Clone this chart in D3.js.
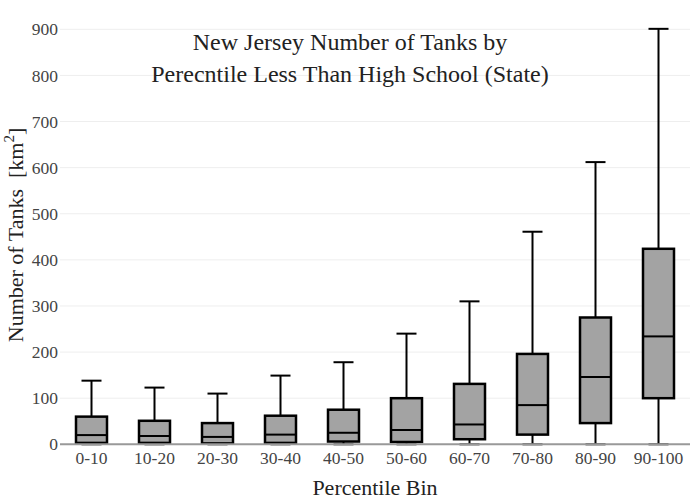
<!DOCTYPE html>
<html>
<head>
  <style>
    body { margin: 0; background: #fff; }
    svg text { font-family: "Times New Roman", Times, "Liberation Serif", Tinos, "DejaVu Serif", serif !important; }
  </style>
</head>
<body>
  <div id="chart"></div>
  <script src="https://d3js.org/d3.v7.min.js"></script>
  <script>
    // Box stats
    const bins = ["0-10", "10-20", "20-30", "30-40", "40-50", "50-60", "60-70", "70-80", "80-90", "90-100"];
    const lowers = [0, 0, 0, 0, 0, 0, 0, 0, 0, 0];
    const q1s = [3, 3, 2, 3, 6, 5, 11, 21, 46, 100];
    const medians = [20, 18, 16, 21, 25, 31, 43, 85, 146, 234];
    const q3s = [60, 51, 46, 62, 75, 100, 131, 196, 275, 424];
    const uppers = [138, 123, 110, 149, 178, 240, 310, 461, 612, 901];
    const yTicks = [0, 100, 200, 300, 400, 500, 600, 700, 800, 900];

    const width = 700, height = 500;

    const svg = d3.select("#chart")
      .append("svg")
      .attr("width", width)
      .attr("height", height);

    const x = d3.scaleBand()
      .domain(bins)
      .range([60, 690]);

    const y = d3.scaleLinear()
      .domain([0, 900])
      .range([444.3, 29.3]);

    // gridlines
    svg.append("g")
      .selectAll("line")
      .data(yTicks.slice(1))
      .enter()
      .append("line")
      .attr("x1", 60)
      .attr("x2", 690)
      .attr("y1", d => y(d))
      .attr("y2", d => y(d))
      .attr("stroke", "#eee")
      .attr("stroke-width", 1);

    // y axis labels
    const yAxis = svg.append("g")
      .attr("transform", "translate(60,0)")
      .call(d3.axisLeft(y).tickValues(yTicks).tickSize(0).tickPadding(2));
    yAxis.select(".domain").remove();
    yAxis.selectAll("text")
      .attr("font-size", 17.5)
      .attr("fill", "#444");

    // x axis
    const xAxis = svg.append("g")
      .attr("transform", "translate(0,444.3)")
      .call(d3.axisBottom(x).tickSize(0).tickPadding(7));
    xAxis.select(".domain").remove();
    xAxis.selectAll("text")
      .attr("font-size", 17.5)
      .attr("fill", "#444");

    const data = bins.map((b, i) => ({
      bin: b, lo: lowers[i], q1: q1s[i], med: medians[i], q3: q3s[i], hi: uppers[i]
    }));

    const boxW = 31, capW = 20;
    const g = svg.append("g")
      .selectAll("g")
      .data(data)
      .enter()
      .append("g")
      .attr("transform", d => `translate(${x(d.bin) + x.bandwidth() / 2},0)`);

    // whiskers
    g.append("line")
      .attr("y1", d => y(d.q3)).attr("y2", d => y(d.hi))
      .attr("stroke", "#000").attr("stroke-width", 2);
    g.append("line")
      .attr("y1", d => y(d.q1)).attr("y2", d => y(d.lo))
      .attr("stroke", "#000").attr("stroke-width", 2);
    g.append("line")
      .attr("x1", -capW / 2).attr("x2", capW / 2)
      .attr("y1", d => y(d.hi)).attr("y2", d => y(d.hi))
      .attr("stroke", "#000").attr("stroke-width", 2);
    g.append("line")
      .attr("x1", -capW / 2).attr("x2", capW / 2)
      .attr("y1", d => y(d.lo)).attr("y2", d => y(d.lo))
      .attr("stroke", "#000").attr("stroke-width", 2);

    // boxes
    g.append("rect")
      .attr("x", -boxW / 2)
      .attr("width", boxW)
      .attr("y", d => y(d.q3))
      .attr("height", d => y(d.q1) - y(d.q3))
      .attr("fill", "#a3a3a3")
      .attr("stroke", "#000")
      .attr("stroke-width", 2.5);
    g.append("line")
      .attr("x1", -boxW / 2).attr("x2", boxW / 2)
      .attr("y1", d => y(d.med)).attr("y2", d => y(d.med))
      .attr("stroke", "#000").attr("stroke-width", 2);

    // zero line
    svg.append("line")
      .attr("x1", 60).attr("x2", 690)
      .attr("y1", y(0)).attr("y2", y(0))
      .attr("stroke", "#999").attr("stroke-width", 2);

    // title
    const title = svg.append("text")
      .attr("text-anchor", "middle")
      .attr("font-size", 24)
      .attr("fill", "#222");
    title.append("tspan").attr("x", 350).attr("y", 50).text("New Jersey Number of Tanks by");
    title.append("tspan").attr("x", 350).attr("y", 81.5).text("Perecntile Less Than High School (State)");

    // axis titles
    svg.append("text")
      .attr("x", 375)
      .attr("y", 495)
      .attr("text-anchor", "middle")
      .attr("font-size", 22)
      .attr("fill", "#222")
      .text("Percentile Bin");

    const yt = svg.append("text")
      .attr("transform", `translate(23,235) rotate(-90)`)
      .attr("text-anchor", "middle")
      .attr("font-size", 22)
      .attr("fill", "#222")
      .style("white-space", "pre");
    yt.append("tspan").text("Number of Tanks  [km");
    yt.append("tspan").attr("font-size", 15).attr("dy", -9).text("2");
    yt.append("tspan").attr("dy", 9).text("]");
  </script>
</body>
</html>
